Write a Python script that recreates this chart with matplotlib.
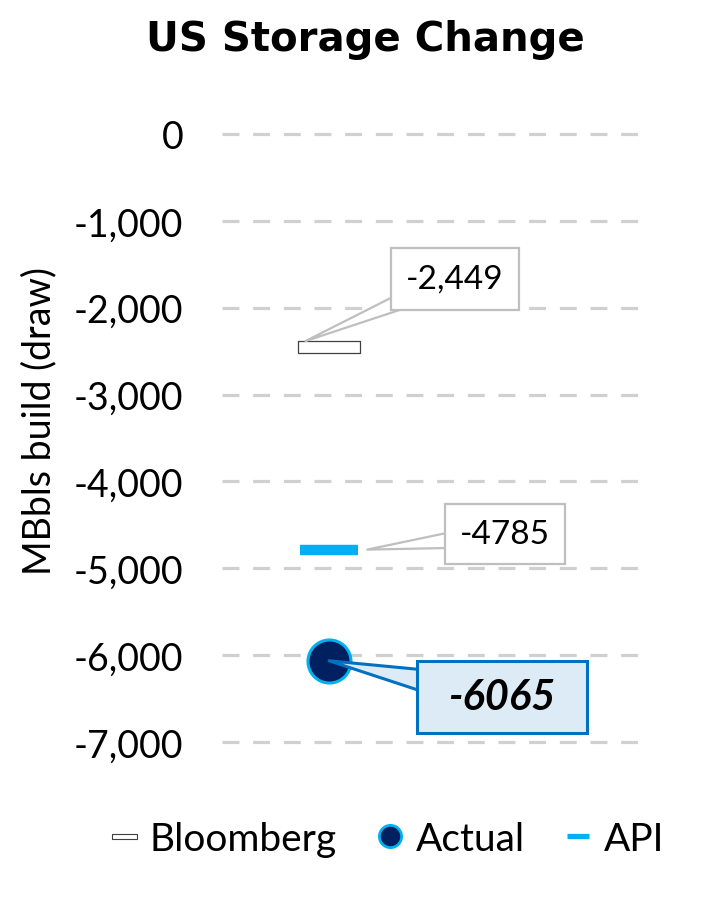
import matplotlib.pyplot as plt
from matplotlib.path import Path
import numpy as np

# values
series = ["Bloomberg", "Actual", "API"]
bloomberg = -2449
actual = -6065
api = -4785
y_ticks = [0, -1000, -2000, -3000, -4000, -5000, -6000, -7000]

plt.rcParams["font.family"] = ["Lato", "DejaVu Sans"]


class PadBox:
    """square box with separate x / y padding (pixels)"""
    def __init__(self, padx, pady):
        self.padx = padx
        self.pady = pady

    def __call__(self, x0, y0, width, height, mutation_size):
        x0, y0 = x0 - self.padx, y0 - self.pady
        x1, y1 = x0 + width + 2 * self.padx, y0 + height + 2 * self.pady
        return Path([(x0, y0), (x1, y0), (x1, y1), (x0, y1), (x0, y0)], closed=True)


def callout(ax, text, xy, xytext, fc, ec, lw, size, box, tail, **kw):
    ax.annotate(text, xy=xy, xytext=xytext, ha="center", va="center",
                fontsize=size, zorder=4, **kw,
                bbox=dict(boxstyle=box, fc=fc, ec=ec, lw=lw),
                arrowprops=dict(arrowstyle=f"wedge,tail_width={tail}",
                                mutation_scale=20, fc=fc, ec=ec, lw=lw,
                                patchA=None, shrinkA=0, shrinkB=0))


fig = plt.figure(figsize=(7.05, 9.12), dpi=100)
ax = fig.add_axes([0.315, 0.1853, 0.607, 0.6667])

# flat rectangle marker for the consensus estimate
rect = Path([(-1, -0.2), (1, -0.2), (1, 0.2), (-1, 0.2), (-1, -0.2)],
            [Path.MOVETO, Path.LINETO, Path.LINETO, Path.LINETO, Path.CLOSEPOLY])

ax.plot([0], [bloomberg], linestyle="none", marker=rect, markersize=44,
        markerfacecolor="white", markeredgecolor="#404040", markeredgewidth=0.9,
        label="Bloomberg", zorder=3)
ax.plot([0], [actual], linestyle="none", marker="o", markersize=31,
        markerfacecolor="#002060", markeredgecolor="#00B0F0", markeredgewidth=2.2,
        label="Actual", zorder=3)
ax.plot([0], [api], linestyle="none", marker="_", markersize=42,
        markeredgecolor="#00B0F0", markeredgewidth=7.5, label="API", zorder=3)

# callouts
callout(ax, f"{bloomberg:,}", (-0.11, bloomberg + 65), (0.589, -1669),
        "white", "#BFBFBF", 1.6, 24, PadBox(15, 16), 0.87)
callout(ax, f"{api}", (0.178, api), (0.822, -4605),
        "white", "#BFBFBF", 1.6, 24, PadBox(15, 15), 0.93)
callout(ax, f"{actual}", (0.0, actual), (0.808, -6482),
        "#DDEBF7", "#0070C0", 2.2, 30, PadBox(31, 17), 1.42,
        fontweight="bold", style="italic")

ax.set_xlim(-0.5, 1.5)
ax.set_ylim(-7000, 0)
ax.set_yticks(y_ticks)
ax.set_yticklabels([f"{v:,}" for v in y_ticks], fontsize=27)
ax.set_xticks([])
ax.tick_params(axis="y", length=0, pad=28)
ax.yaxis.grid(True, color="#D0D0D0", linestyle=(0, (5.3, 4.3)), linewidth=2.3)
for gl in ax.get_ygridlines():
    gl.set_clip_on(False)
ax.set_axisbelow(True)
for s in ax.spines.values():
    s.set_visible(False)
ax.set_ylabel("MBbls build (draw)", fontsize=27)
ax.yaxis.set_label_coords(-0.386, 0.53)

fig.text(0.518, 0.978, "US Storage Change", fontsize=29, fontweight="bold",
         family="DejaVu Sans", ha="center", va="top")

leg = fig.legend(loc="center", bbox_to_anchor=(0.549, 0.079), ncol=3, frameon=False,
                 fontsize=28, handlelength=0.75, handletextpad=0.28, columnspacing=1.0)
hs = leg.legend_handles
hs[0].set_markersize(18)
hs[0].set_markeredgewidth(0.8)
hs[1].set_markersize(16)
hs[1].set_markeredgewidth(2.0)
hs[2].set_markersize(16.5)
hs[2].set_markeredgewidth(3.8)

fig.savefig("out.png", dpi=100)
